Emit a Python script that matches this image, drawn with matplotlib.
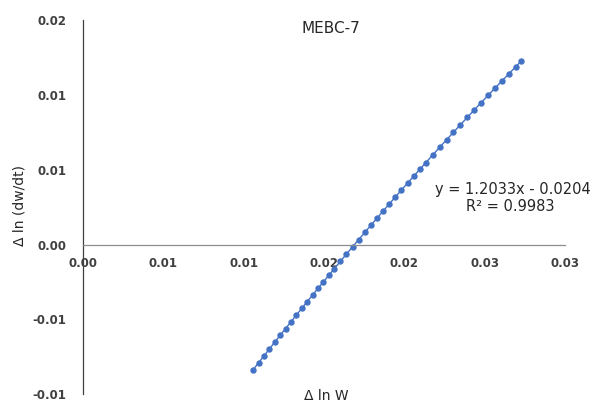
import matplotlib
matplotlib.use("Agg")
import matplotlib.pyplot as plt
from matplotlib.ticker import FixedLocator, FuncFormatter

title = "MEBC-7"
x_label = "\u0394 ln W"
y_label = "\u0394 ln (dw/dt)"
equation = "y = 1.2033x - 0.0204"
r_squared = "R\u00b2 = 0.9983"

x_ticks = [0.0, 0.005, 0.010, 0.015, 0.020, 0.025, 0.030]
y_ticks = [-0.010, -0.005, 0.0, 0.005, 0.010, 0.015]

delta_ln_w = [
    0.010592, 0.010928, 0.011265, 0.011601, 0.011938, 0.012274, 0.012611,
    0.012947, 0.013283, 0.013620, 0.013956, 0.014293, 0.014629, 0.014966,
    0.015302, 0.015639, 0.016019, 0.016399, 0.016779, 0.017159, 0.017539,
    0.017919, 0.018299, 0.018679, 0.019059, 0.019439, 0.019819, 0.020199,
    0.020579, 0.020960, 0.021340, 0.021769, 0.022199, 0.022629, 0.023059,
    0.023489, 0.023919, 0.024349, 0.024779, 0.025209, 0.025639, 0.026069,
    0.026499, 0.026928, 0.027290,
]
delta_ln_dwdt = [
    -0.008355, -0.007892, -0.007430, -0.006971, -0.006513, -0.006058, -0.005604,
    -0.005153, -0.004703, -0.004255, -0.003810, -0.003365, -0.002924, -0.002484,
    -0.002046, -0.001611, -0.001121, -0.000633, -0.000148, 0.000334, 0.000814,
    0.001292, 0.001767, 0.002239, 0.002709, 0.003176, 0.003641, 0.004103,
    0.004563, 0.005021, 0.005475, 0.005986, 0.006495, 0.006999, 0.007501,
    0.007999, 0.008495, 0.008987, 0.009476, 0.009962, 0.010444, 0.010923,
    0.011395, 0.011871, 0.012267,
]

fig = plt.figure(figsize=(5.95, 4.03), dpi=100)
ax = fig.add_axes([0.1395, 0.0215, 0.8101, 0.9290])

ax.plot(delta_ln_w, delta_ln_dwdt, "-o", color="#4472C4", lw=1.0,
        markersize=4.6, markeredgewidth=0)

ax.set_xlim(0, 0.03)
ax.set_ylim(-0.010, 0.015)

ax.spines["top"].set_visible(False)
ax.spines["right"].set_visible(False)
ax.spines["left"].set_position(("data", 0))
ax.spines["bottom"].set_position(("data", 0))
ax.spines["left"].set_color("#404040")
ax.spines["bottom"].set_color("#8c8c8c")
ax.spines["left"].set_linewidth(0.9)
ax.spines["bottom"].set_linewidth(0.9)


def two_dec(v, pos):
    if abs(v) < 1e-12:
        return "0.00"
    return f"{round(v + (1e-9 if v > 0 else -1e-9), 2):.2f}"


fmt = FuncFormatter(two_dec)
ax.xaxis.set_major_locator(FixedLocator(x_ticks))
ax.yaxis.set_major_locator(FixedLocator(y_ticks))
ax.xaxis.set_major_formatter(fmt)
ax.yaxis.set_major_formatter(fmt)
ax.tick_params(axis="both", length=0, labelsize=8.5, colors="#404040")
ax.tick_params(axis="x", pad=9)
ax.tick_params(axis="y", pad=12)
for lbl in ax.get_xticklabels() + ax.get_yticklabels():
    lbl.set_fontweight("semibold")

ax.text(0.01545, 0.0144, title, ha="center", va="center", fontsize=11, color="#262626")
ax.text(0.02673, 0.00371, equation, ha="center", va="center", fontsize=10.5, color="#262626")
ax.text(0.02660, 0.00252, r_squared, ha="center", va="center", fontsize=10.5, color="#262626")

fig.text(326 / 595, 1 - 396 / 403, x_label, ha="center", va="center", fontsize=10, color="#262626")
fig.text(20 / 595, 1 - 205 / 403, y_label, ha="center", va="center", rotation=90, fontsize=10, color="#262626")

fig.savefig("out.png", dpi=100)
